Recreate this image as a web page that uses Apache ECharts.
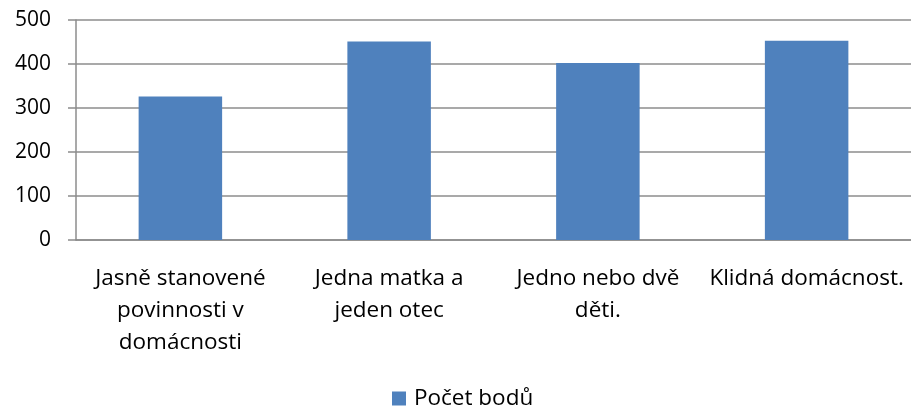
<!DOCTYPE html>
<html>
<head>
<meta charset="utf-8">
<script src="https://cdn.jsdelivr.net/npm/echarts@6/dist/echarts.min.js"></script>
<style>html,body{margin:0;padding:0;background:#fff}#c{width:911px;height:410px}</style>
</head>
<body>
<div id="c"></div>
<script>
const categories = ['Jasně stanovené\npovinnosti v\ndomácnosti', 'Jedna matka a\njeden otec', 'Jedno nebo dvě\nděti.', 'Klidná domácnost.'];
const seriesName = 'Počet bodů';
const values = [326, 451, 402, 453];
const yTicks = { min: 0, max: 500, interval: 100 };

const font = '"Open Sans", sans-serif';
const chart = echarts.init(document.getElementById('c'), null, { renderer: 'canvas' });
chart.setOption({
  animation: false,
  textStyle: { fontFamily: font },
  grid: { left: 76, top: 20, width: 838, height: 220, containLabel: false },
  legend: {
    data: [seriesName], top: 387, left: 392, padding: 0, icon: 'rect', itemWidth: 14, itemHeight: 14, itemGap: 6,
    textStyle: { fontSize: 22.5, color: '#000', fontFamily: font, padding: [0, 0, 0, 3] }
  },
  xAxis: {
    type: 'category', data: categories,
    axisLine: { lineStyle: { color: '#8c8c8c', width: 1.5 } },
    axisTick: { length: 8, lineStyle: { color: '#8c8c8c', width: 1.5 } },
    axisLabel: { fontSize: 22.5, color: '#000', lineHeight: 32, margin: 23, interval: 0, fontFamily: font }
  },
  yAxis: {
    type: 'value', min: yTicks.min, max: yTicks.max, interval: yTicks.interval,
    axisLine: { show: true, lineStyle: { color: '#8c8c8c', width: 1.5 } },
    axisTick: { show: true, length: 8, lineStyle: { color: '#8c8c8c', width: 1.5 } },
    axisLabel: { fontSize: 21, color: '#000', margin: 25, fontFamily: font },
    splitLine: { lineStyle: { color: '#8c8c8c', width: 1.5 } }
  },
  series: [{
    name: seriesName, type: 'bar', data: values, barWidth: '40%',
    itemStyle: { color: '#4F81BD' }
  }]
});
</script>
</body>
</html>
